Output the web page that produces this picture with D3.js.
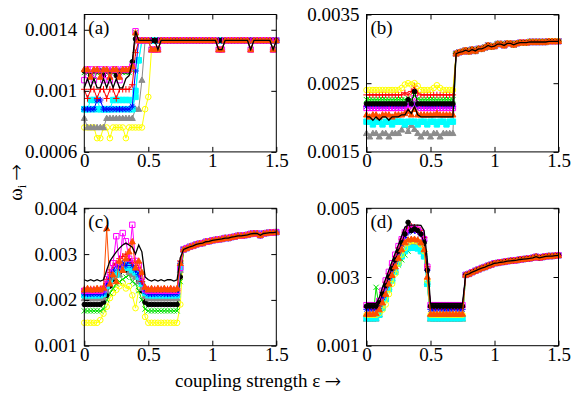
<!DOCTYPE html>
<html>
<head>
<meta charset="utf-8">
<script src="https://cdn.jsdelivr.net/npm/d3@7"></script>
<style>
  body { margin: 0; background: #fff; }
</style>
</head>
<body>
<svg width="576" height="402"></svg>
<script>
// coupling strength grid (x) shared by all panels
let xGrid = [0,0.025,0.05,0.075,0.1,0.125,0.15,0.175,0.2,0.225,
    0.25,0.275,0.3,0.325,0.35,0.375,0.4,0.425,0.45,0.475,
    0.5,0.525,0.55,0.575,0.6,0.625,0.65,0.675,0.7,0.725,
    0.75,0.775,0.8,0.825,0.85,0.875,0.9,0.925,0.95,0.975,
    1,1.025,1.05,1.075,1.1,1.125,1.15,1.175,1.2,1.225,
    1.25,1.275,1.3,1.325,1.35,1.375,1.4,1.425,1.45,1.475,1.5];
let xTicks = [0, 0.5, 1, 1.5];
let xTickLabels = ['0', '0.5', '1', '1.5'];

// all frequencies below are in units of 1e-4
// ---- panel (a): x = 0 .. 0.55, then common tail
let a_yellow  = [7.6,7.6,7.6,7.6,6.9,6.9,7.6,7.6,6.9,7.6,7.6,7.6,7.6,6.9,7.6,7.6,7.6,7.6,7.6,8.8,9.6,12.7,12.7];
let a_gray    = [8.2,7.6,7.6,7.6,7.6,7.6,7.6,8.2,8.2,8.2,8.2,8.2,8.2,8.2,8.2,8.2,8.8,8.8,10.7,13.3,13.3,13.3,13.3];
let a_cyan    = [8.8,8.8,8.8,8.8,8.8,8.8,8.8,8.8,8.8,8.8,8.8,8.8,8.8,8.8,8.8,8.8,10.0,12.0,13.3,13.3,13.3,13.3,13.3];
let a_cyan2   = [8.8,8.8,9.4,9.4,9.4,8.8,8.8,8.8,8.8,9.4,9.4,9.4,9.4,9.4,9.4,8.8,9.6,12.0,13.3,13.3,13.3,13.3,13.3];
let a_blue    = [8.8,8.8,8.8,8.8,9.4,9.4,8.8,8.8,8.8,8.8,8.8,8.8,8.8,8.8,8.8,9.0,11.3,13.3,13.3,13.3,13.3,13.3,13.3];
let a_red     = [10.1,9.5,10.1,10.1,9.5,10.1,10.1,9.5,10.1,10.1,9.5,10.1,10.1,10.1,10.1,10.4,12.5,13.3,13.3,13.3,13.3,13.3,13.3];
let a_green   = [11.2,11.2,11.2,10.7,11.2,11.2,11.2,11.2,11.2,11.2,11.2,11.2,11.2,11.2,11.2,11.4,13.8,13.3,13.3,13.3,13.3,12.7,12.7];
let a_dots    = [11.3,11.3,11.0,11.3,11.3,11.3,11.0,11.3,11.3,11.3,11.0,11.3,11.3,11.3,11.3,11.9,13.4,13.3,13.3,13.3,13.3,13.3,13.3];
let a_magenta = [10.7,11.4,11.4,10.7,11.4,11.4,10.7,11.4,10.7,11.4,11.4,10.7,11.4,11.4,11.4,11.6,13.9,13.3,13.3,13.3,13.3,12.7,12.7];
let a_orange  = [11.4,11.4,10.9,11.4,11.4,10.9,11.4,11.4,10.9,11.4,11.4,10.9,11.4,11.4,11.4,11.6,13.8,13.3,13.3,13.3,13.3,12.7,12.7];
let a_black   = [10.2,10.8,10.2,10.8,10.2,10.2,10.8,10.2,10.8,10.2,10.8,10.2,10.2,10.8,11.0,11.9,13.9,13.3,13.3,13.3,13.3,13.3,13.3];
let a_tailDip = [12.7,13.3,13.3,13.3,13.3,13.3,13.3,13.3,13.3,13.3,
    13.3,13.3,13.3,13.3,13.3,13.3,13.3,13.3,13.3,12.7,
    12.7,13.3,13.3,13.3,13.3,13.3,13.3,13.3,13.3,12.7,
    13.3,13.3,13.3,13.3,13.3,13.3,12.7,13.3];
let a_tailFlat = [13.3,13.3,13.3,13.3,13.3,13.3,13.3,13.3,13.3,13.3,
    13.3,13.3,13.3,13.3,13.3,13.3,13.3,13.3,13.3,13.3,
    13.3,13.3,13.3,13.3,13.3,13.3,13.3,13.3,13.3,13.3,
    13.3,13.3,13.3,13.3,13.3,13.3,13.3,13.3];

// ---- panel (b): x = 0 .. 0.675, then common tail
let b_yellow  = [24.0,24.0,24.0,24.0,24.0,24.0,24.0,24.0,24.0,24.0,24.0,24.3,24.8,25.0,24.8,25.0,24.6,24.0,24.0,24.0,24.0,24.3,24.7,24.3,24.0,24.0,24.0,24.0];
let b_red     = [23.3,23.3,23.3,23.3,23.3,23.3,23.3,23.3,23.3,23.3,23.3,23.3,23.6,23.3,23.8,24.6,23.6,23.3,23.3,23.3,23.3,23.3,23.3,23.3,23.3,23.3,23.3,23.3];
let b_green   = [22.6,22.6,22.6,22.6,22.6,22.6,22.6,22.6,22.6,22.6,22.6,22.6,22.6,22.8,22.6,23.2,22.7,22.6,22.6,22.6,22.6,22.6,22.6,22.6,22.6,22.6,22.6,22.6];
let b_dots    = [22.0,22.0,22.0,22.0,22.0,22.0,22.0,22.0,22.0,22.0,22.0,22.0,22.0,22.6,22.0,23.8,22.0,22.0,22.0,22.0,22.0,22.0,22.0,22.0,22.0,22.0,22.0,22.0];
let b_blue    = [21.6,21.6,21.6,21.6,21.6,21.6,21.6,21.6,21.6,21.6,21.6,21.6,21.6,21.8,22.0,21.9,21.6,21.6,21.6,21.6,21.6,21.6,21.6,21.6,21.6,21.6,21.6,21.6];
let b_magenta = [21.4,21.4,21.4,21.4,21.4,21.4,21.4,21.4,21.4,21.4,21.4,21.4,21.4,21.6,21.8,22.8,21.8,21.4,21.4,21.4,21.4,21.4,21.4,21.4,21.4,21.4,21.4,21.4];
let b_orange  = [20.4,20.1,20.4,20.4,20.1,20.4,20.4,20.4,20.1,20.4,20.4,20.4,20.6,20.9,20.4,21.2,20.4,20.4,20.4,20.4,20.4,20.4,20.6,20.4,20.4,20.4,20.4,20.4];
let b_black   = [20.1,20.1,19.6,20.1,19.6,20.1,20.1,19.6,20.1,20.1,20.1,20.4,20.4,21.2,20.6,21.6,20.4,20.1,20.1,20.1,20.1,20.1,20.1,20.1,20.1,20.1,20.1,20.1];
let b_cyan    = [19.4,19.4,19.0,19.4,19.4,19.0,19.4,19.4,19.0,19.4,19.4,19.4,19.0,19.4,19.4,19.4,19.0,19.4,19.4,19.0,19.4,19.4,19.0,19.4,19.4,19.0,19.4,19.4];
let b_gray    = [17.7,17.2,17.7,17.7,17.2,17.7,17.7,17.2,17.7,17.7,17.7,18.2,18.9,18.0,18.9,18.3,17.7,17.2,17.7,17.7,17.2,17.7,17.7,17.2,17.7,17.7,17.7,17.7];
let b_tail    = [29.3,29.5,29.6,29.8,29.6,29.9,29.7,30.0,30.0,30.2,
    30.5,30.3,30.4,30.7,30.7,30.5,30.8,30.8,30.6,30.8,
    30.9,30.9,30.9,31.0,31.0,31.0,31.0,31.0,31.0,31.1,
    31.1,31.1,31.1];

// ---- panel (c): x = 0 .. 0.75, then common tail
let c_black   = [24.4,24.1,24.4,24.1,24.4,24.1,24.4,26.5,28.5,29.5,30.5,31.3,32.0,32.4,32.0,31.5,30.0,32.0,30.5,25.0,24.4,24.1,24.4,24.1,24.4,24.1,24.4,24.4,24.1,24.4,29.2];
let c_orange  = [22.2,22.5,22.2,22.2,22.5,22.2,22.6,35.6,23.5,25.5,24.0,28.5,26.5,29.0,30.5,32.7,27.0,28.5,26.0,22.8,22.2,22.5,22.2,22.5,22.2,22.5,22.2,22.5,22.2,22.5,28.0];
let c_magenta = [22.0,22.0,22.0,22.0,22.0,22.0,22.3,24.5,26.0,28.0,33.9,27.5,34.6,32.8,29.0,36.4,28.5,27.5,25.0,22.3,22.0,22.0,22.0,22.0,22.0,22.0,22.0,22.0,22.0,22.0,27.0];
let c_red     = [22.4,22.4,22.4,22.4,22.4,22.4,23.0,24.5,26.0,27.5,28.0,29.0,29.5,30.0,29.0,28.0,28.5,27.0,24.0,22.6,22.4,22.4,22.4,22.4,22.4,22.4,22.4,22.4,22.4,22.4,28.5];
let c_blue    = [21.3,21.3,21.3,21.3,21.3,21.3,21.5,23.5,25.0,26.5,27.5,27.0,28.0,27.5,28.5,27.5,26.5,25.5,24.0,21.8,21.3,21.3,21.3,21.3,21.3,21.3,21.3,21.3,21.3,21.3,28.0];
let c_cyan    = [21.0,21.0,21.0,21.0,21.0,21.0,21.3,23.0,24.5,26.0,25.5,26.8,27.5,27.0,27.8,26.5,26.0,25.0,23.5,21.5,21.0,21.0,21.0,21.0,21.0,21.0,21.0,21.0,21.0,21.0,27.0];
let c_gray    = [20.3,20.3,20.3,20.3,20.3,20.3,20.5,22.0,24.0,25.0,26.0,25.5,26.5,27.0,26.0,25.5,25.0,24.0,22.5,20.8,20.3,20.3,20.3,20.3,20.3,20.3,20.3,20.3,20.3,20.3,26.5];
let c_dots    = [19.0,19.0,19.0,19.0,19.0,19.0,19.5,21.0,23.0,24.5,25.5,26.0,26.5,26.5,27.0,26.0,25.5,24.0,22.0,19.5,19.0,19.0,19.0,19.0,19.0,19.0,19.0,19.0,19.0,19.0,25.0];
let c_green   = [17.6,17.6,17.6,17.6,17.6,17.6,18.0,20.0,21.5,22.5,23.5,24.0,24.5,25.0,25.5,24.0,23.5,22.0,20.0,18.0,17.6,17.6,17.6,17.6,17.6,17.6,17.6,17.6,17.6,17.6,24.0];
let c_yellow  = [15.0,15.0,15.0,15.0,15.0,15.6,17.0,18.5,20.4,21.5,22.2,23.0,23.7,22.5,23.0,21.0,18.2,22.2,22.0,16.3,15.0,15.0,15.0,15.0,15.0,15.0,15.0,15.0,15.0,15.0,19.0];
let c_tail    = [31.0,31.3,31.6,31.8,32.1,32.3,32.4,32.7,32.8,33.0,
    33.1,33.2,33.3,33.5,33.5,33.7,33.8,34.0,34.0,34.1,
    34.2,34.4,34.5,34.5,34.1,34.5,34.6,34.7,34.7,34.8];

// ---- panel (d): x = 0 .. 0.75, then common tail
let d_black   = [22.3,22.3,22.3,22.3,24.0,27.0,29.5,32.0,34.5,37.0,39.5,42.0,44.5,45.1,45.1,45.1,45.1,45.0,43.5,35.0,22.3,22.3,22.3,22.3,22.3,22.3,22.3,22.3,22.3,22.3,22.3];
let d_dots    = [21.5,21.5,21.5,21.5,22.5,25.0,27.5,30.0,32.5,35.0,37.5,40.0,42.5,45.9,43.5,44.0,43.5,42.5,40.0,32.0,21.5,21.5,21.5,21.5,21.5,21.5,21.5,21.5,21.5,21.5,21.5];
let d_magenta = [21.8,21.8,21.8,21.8,23.0,26.0,29.0,31.5,34.0,36.5,39.0,41.0,43.0,44.0,44.3,44.0,43.8,43.0,41.0,33.0,21.8,21.8,21.8,21.8,21.8,21.8,21.8,21.8,21.8,21.8,21.8];
let d_red     = [21.2,21.2,21.2,21.2,22.5,25.5,28.5,31.0,33.5,36.0,38.5,41.0,43.0,44.5,44.8,44.5,44.3,43.5,41.5,33.0,21.2,21.2,21.2,21.2,21.2,21.2,21.2,21.2,21.2,21.2,21.2];
let d_blue    = [20.6,20.6,20.6,20.6,21.5,24.0,27.0,29.5,32.0,34.5,37.0,39.5,41.5,43.0,43.5,43.5,43.3,42.5,40.5,32.0,20.6,20.6,20.6,20.6,20.6,20.6,20.6,20.6,20.6,20.6,20.6];
let d_orange  = [19.2,19.2,19.2,19.4,20.5,22.5,25.0,28.0,30.5,33.0,35.5,38.0,40.0,40.8,41.0,41.0,40.8,40.0,38.0,30.0,19.2,19.2,19.2,19.2,19.2,19.2,19.2,19.2,19.2,19.2,19.2];
let d_yellow  = [19.0,19.0,19.0,19.0,19.5,20.5,22.0,25.0,28.0,31.0,34.0,36.5,38.5,40.0,40.5,40.5,40.3,39.5,37.5,29.0,19.0,19.0,19.0,19.0,19.0,19.0,19.0,19.0,19.0,19.0,19.0];
let d_green   = [17.8,17.8,17.8,27.0,21.0,22.0,24.0,26.5,29.0,31.5,33.5,35.0,36.4,37.5,38.5,39.5,39.0,38.0,36.0,28.0,17.8,17.8,17.8,17.8,17.8,17.8,17.8,17.8,17.8,17.8,17.8];
let d_cyan    = [18.0,18.0,18.0,18.0,19.0,21.0,23.5,26.5,29.0,31.5,34.0,36.0,37.5,38.4,38.5,38.5,38.3,37.5,36.0,28.0,18.0,18.0,18.0,18.0,18.0,18.0,18.0,18.0,18.0,18.0,18.0];
let d_gray    = [17.8,17.8,17.8,17.8,19.0,21.5,24.5,27.0,29.5,32.0,34.5,36.5,38.0,39.0,39.5,39.5,39.3,38.5,36.5,28.5,17.8,17.8,17.8,17.8,17.8,17.8,17.8,17.8,17.8,17.8,17.8];
let d_tail    = [30.6,30.9,31.4,31.8,32.2,32.6,32.9,33.3,33.6,34.0,
    34.1,34.3,34.4,34.6,34.7,34.8,34.9,35.1,35.2,35.3,
    35.4,35.6,35.9,35.6,35.8,36.0,36.1,36.1,36.2,36.3];

// gnuplot-like colours and point types
let styles = {
    red:     {color: '#ff0000', mark: 'plus'},
    green:   {color: '#00e000', mark: 'cross'},
    blue:    {color: '#0000ff', mark: 'star'},
    magenta: {color: '#ff00ff', mark: 'square', open: true},
    cyan:    {color: '#00ffff', mark: 'square'},
    yellow:  {color: '#ffff00', mark: 'circle', open: true},
    dots:    {color: '#000000', mark: 'dot'},
    orange:  {color: '#ff4d00', mark: 'triangle'},
    gray:    {color: '#8c8c8c', mark: 'triangle'},
    line:    {color: '#000000', mark: null}
};

let markPaths = {
    plus: 'M-3.2,0H3.2M0,-3.2V3.2',
    cross: 'M-2.6,-2.6L2.6,2.6M-2.6,2.6L2.6,-2.6',
    star: 'M-3.2,0H3.2M0,-3.2V3.2M-2.3,-2.3L2.3,2.3M-2.3,2.3L2.3,-2.3',
    square: 'M-2.7,-2.7H2.7V2.7H-2.7Z',
    circle: 'M2.8,0A2.8,2.8 0 1,1 -2.8,0A2.8,2.8 0 1,1 2.8,0Z',
    dot: 'M2.3,0A2.3,2.3 0 1,1 -2.3,0A2.3,2.3 0 1,1 2.3,0Z',
    triangle: 'M0,-3.2L3,2.2H-3Z'
};

let panels = [
    {label: '(a)', left: 84.3, top: 14.5, yDomain: [6, 15], yTicks: [6, 10, 14], yLabels: ['0.0006', '0.001', '0.0014'],
     series: [['yellow', a_yellow, a_tailDip], ['gray', a_gray, a_tailFlat], ['cyan', a_cyan, a_tailFlat],
              ['cyan', a_cyan2, a_tailFlat], ['blue', a_blue, a_tailFlat], ['red', a_red, a_tailFlat],
              ['green', a_green, a_tailDip], ['dots', a_dots, a_tailFlat], ['magenta', a_magenta, a_tailDip],
              ['orange', a_orange, a_tailDip], ['line', a_black, a_tailDip]]},
    {label: '(b)', left: 366.5, top: 14.5, yDomain: [15, 35], yTicks: [15, 25, 35], yLabels: ['0.0015', '0.0025', '0.0035'],
     series: [['gray', b_gray, b_tail], ['cyan', b_cyan, b_tail], ['blue', b_blue, b_tail],
              ['magenta', b_magenta, b_tail], ['green', b_green, b_tail], ['red', b_red, b_tail],
              ['yellow', b_yellow, b_tail], ['dots', b_dots, b_tail], ['orange', b_orange, b_tail],
              ['line', b_black, b_tail]]},
    {label: '(c)', left: 84.3, top: 208.3, yDomain: [10, 40], yTicks: [10, 20, 30, 40], yLabels: ['0.001', '0.002', '0.003', '0.004'],
     series: [['yellow', c_yellow, c_tail], ['green', c_green, c_tail], ['dots', c_dots, c_tail],
              ['gray', c_gray, c_tail], ['cyan', c_cyan, c_tail], ['blue', c_blue, c_tail],
              ['red', c_red, c_tail], ['magenta', c_magenta, c_tail], ['orange', c_orange, c_tail],
              ['line', c_black, c_tail]]},
    {label: '(d)', left: 366.5, top: 208.3, yDomain: [10, 50], yTicks: [10, 30, 50], yLabels: ['0.001', '0.003', '0.005'],
     series: [['green', d_green, d_tail], ['gray', d_gray, d_tail], ['cyan', d_cyan, d_tail],
              ['yellow', d_yellow, d_tail], ['blue', d_blue, d_tail], ['red', d_red, d_tail],
              ['magenta', d_magenta, d_tail], ['dots', d_dots, d_tail], ['orange', d_orange, d_tail],
              ['line', d_black, d_tail]]}
];

let svg = d3.select('svg');
let W = 192, H = 137.4;
let fontSize = 19;
let serif = 'Liberation Serif';
let arrowFont = 'FreeSerif';

let drawPanel = p => {
    let g = svg.append('g').attr('transform', `translate(${p.left},${p.top})`);
    let x = d3.scaleLinear().domain([0, 1.5]).range([0, W]);
    let y = d3.scaleLinear().domain(p.yDomain).range([H, 0]);
    let line = d3.line().x(d => x(d[0])).y(d => y(d[1]));

    p.series.forEach(([key, lo, tail]) => {
        let st = styles[key];
        let pts = lo.concat(tail).map((v, i) => [xGrid[i], v]).filter(d => d[0] !== undefined);
        g.append('path')
            .attr('d', line(pts))
            .attr('fill', 'none')
            .attr('stroke', st.color)
            .attr('stroke-width', key === 'line' ? 1.3 : 1);
        if (!st.mark) return;
        g.selectAll(null).data(pts).enter().append('path')
            .attr('transform', d => `translate(${x(d[0])},${y(d[1])})`)
            .attr('d', markPaths[st.mark])
            .attr('fill', st.open ? 'none' : st.color)
            .attr('stroke', st.color)
            .attr('stroke-width', 1);
    });

    // gnuplot style inward ticks on all four sides
    let bottom = g.append('g').attr('transform', `translate(0,${H})`)
        .call(d3.axisBottom(x).tickValues(xTicks).tickFormat((d, i) => xTickLabels[i]).tickSize(-5).tickPadding(1.5));
    g.append('g').call(d3.axisTop(x).tickValues(xTicks).tickFormat(() => '').tickSize(-5));
    let left = g.append('g')
        .call(d3.axisLeft(y).tickValues(p.yTicks).tickFormat((d, i) => p.yLabels[i]).tickSize(-5).tickPadding(7));
    g.append('g').attr('transform', `translate(${W},0)`)
        .call(d3.axisRight(y).tickValues(p.yTicks).tickFormat(() => '').tickSize(-5));
    g.selectAll('.domain').remove();
    [bottom, left].forEach(a => a.attr('font-family', serif).attr('font-size', fontSize));
    g.selectAll('.tick text').attr('font-family', serif);

    g.append('rect')
        .attr('width', W).attr('height', H)
        .attr('fill', 'none').attr('stroke', '#000').attr('stroke-width', 1);

    g.append('text')
        .attr('x', 4).attr('y', 19.5)
        .attr('font-family', serif)
        .attr('font-size', fontSize)
        .text(p.label);
};

panels.forEach(drawPanel);

// axis titles
let xTitle = svg.append('text')
    .attr('x', 258).attr('y', 387)
    .attr('text-anchor', 'middle')
    .attr('font-family', serif)
    .attr('font-size', fontSize);
xTitle.append('tspan').text('coupling strength ε ');
xTitle.append('tspan').attr('font-family', arrowFont).attr('font-size', 20).text('→');

let yTitle = svg.append('text')
    .attr('transform', 'translate(21.7,182.5) rotate(-90)')
    .attr('text-anchor', 'middle')
    .attr('font-family', serif)
    .attr('font-size', fontSize);
yTitle.append('tspan').text('ω');
yTitle.append('tspan').attr('font-size', 12).attr('dy', 4).text('i');
yTitle.append('tspan').attr('dy', -4).text(' ');
yTitle.append('tspan').attr('font-family', arrowFont).attr('font-size', 20).text('→');
</script>
</body>
</html>
